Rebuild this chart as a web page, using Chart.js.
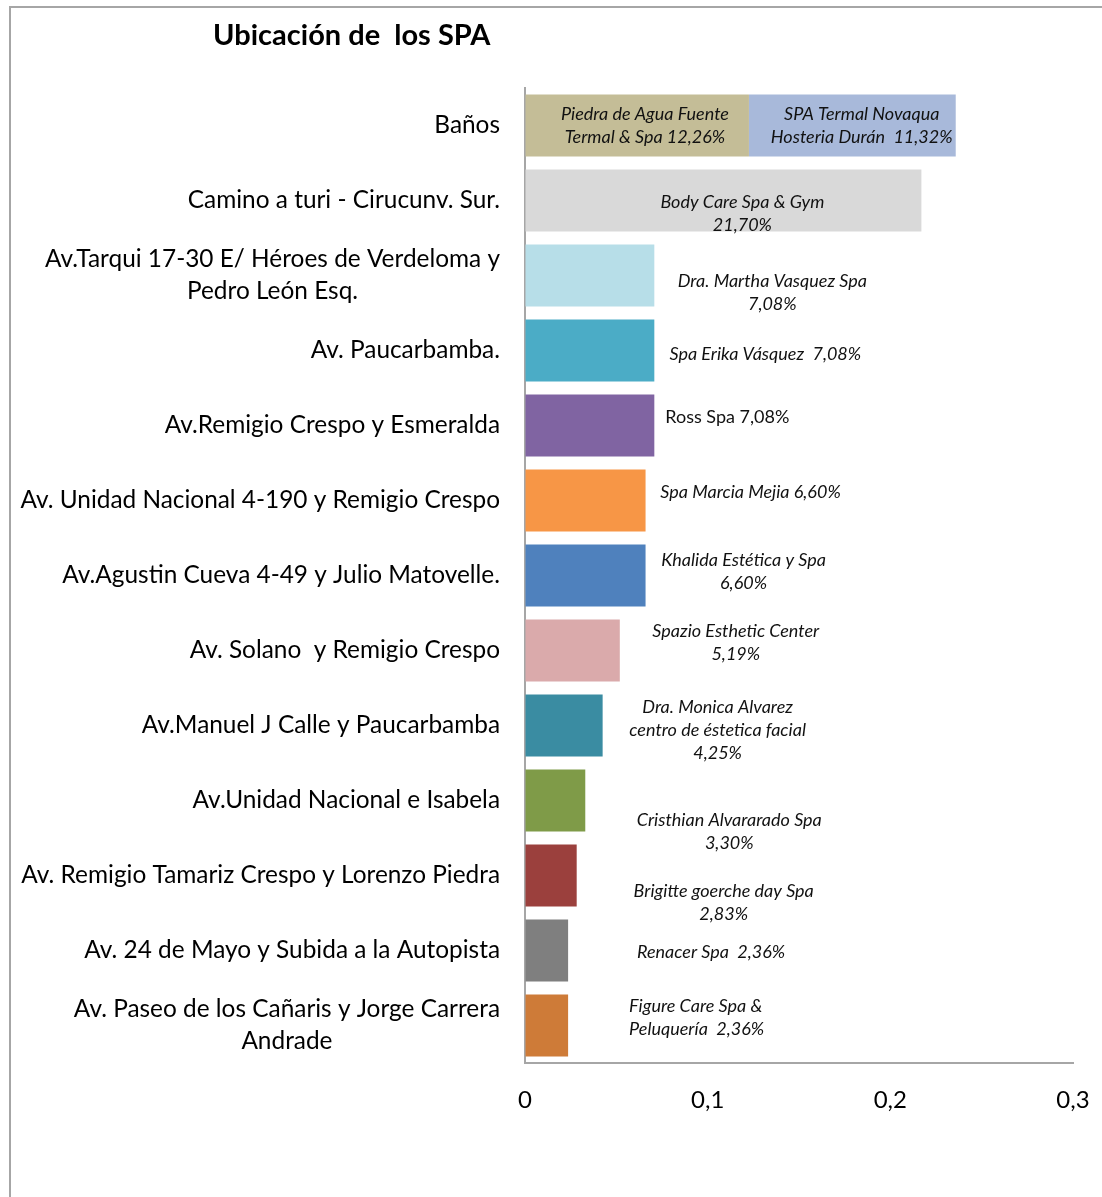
<!DOCTYPE html>
<html>
<head>
<meta charset="utf-8">
<script src="https://cdn.jsdelivr.net/npm/chart.js@4.4.1/dist/chart.umd.min.js"></script>
<style>
  html, body { margin: 0; padding: 0; background: #fff; }
  #wrap { position: relative; width: 1102px; height: 1197px; overflow: hidden; }
  #frame { position: absolute; left: 9px; top: 6px; width: 1200px; height: 1300px;
           border-left: 2px solid #a6a6a6; border-top: 2px solid #a6a6a6; }
  #title { position: absolute; left: 213px; top: 16px; margin: 0; line-height: 40px;
           font: bold 29px Lato, sans-serif; color: #000; }
  canvas { position: absolute; left: 0; top: 0; }
</style>
</head>
<body>
<div id="wrap">
  <div id="frame"></div>
  <canvas id="spaChart" width="1102" height="1197"></canvas>
  <h1 id="title">Ubicación de&nbsp; los SPA</h1>
</div>
<script>
// categories (street / zone), some split over two lines
const categories = [
  ['Baños'],
  ['Camino a turi - Cirucunv. Sur.'],
  ['Av.Tarqui 17-30 E/ Héroes de Verdeloma y', 'Pedro León Esq.'],
  ['Av. Paucarbamba.'],
  ['Av.Remigio Crespo y Esmeralda'],
  ['Av. Unidad Nacional 4-190 y Remigio Crespo'],
  ['Av.Agustin Cueva 4-49 y Julio Matovelle.'],
  ['Av. Solano  y Remigio Crespo'],
  ['Av.Manuel J Calle y Paucarbamba'],
  ['Av.Unidad Nacional e Isabela'],
  ['Av. Remigio Tamariz Crespo y Lorenzo Piedra'],
  ['Av. 24 de Mayo y Subida a la Autopista'],
  ['Av. Paseo de los Cañaris y Jorge Carrera', 'Andrade']
];

// share of each spa
const mainShare = [0.1226, 0.2170, 0.0708, 0.0708, 0.0708, 0.0660, 0.0660, 0.0519, 0.0425, 0.0330, 0.0283, 0.0236, 0.0236];
const secondShare = [0.1132, null, null, null, null, null, null, null, null, null, null, null, null];

// spa names, the percentage is appended to the last line
const mainNames = [
  ['Piedra de Agua Fuente', 'Termal & Spa '],
  ['Body Care Spa & Gym', ''],
  ['Dra. Martha Vasquez Spa', ''],
  ['Spa Erika Vásquez  '],
  ['Ross Spa '],
  ['Spa Marcia Mejia '],
  ['Khalida Estética y Spa', ''],
  ['Spazio Esthetic Center', ''],
  ['Dra. Monica Alvarez', 'centro de éstetica facial', ''],
  ['Cristhian Alvararado Spa', ''],
  ['Brigitte goerche day Spa', ''],
  ['Renacer Spa  '],
  ['Figure Care Spa &', 'Peluquería  ']
];
const secondNames = [['SPA Termal Novaqua', 'Hosteria Durán  ']];

const xTicks = [0, 0.1, 0.2, 0.3];

const barColors = ['#C4BD97', '#D9D9D9', '#B7DEE8', '#4BACC6', '#8064A2', '#F79646', '#4F81BD',
                   '#DAAAAB', '#3A8CA2', '#7F9B48', '#9B403D', '#7F7F7F', '#CE7B38'];
const secondColor = '#A8B9DA';

const fmtPct = v => (v * 100).toFixed(2).replace('.', ',') + '%';

// where each spa note sits: dx from bar end, dy from bar centre (px)
const notePlace = [
  { dx: -104, dy: 0 }, { dx: -179, dy: 13 }, { dx: 118, dy: 17 }, { dx: 111, dy: 4 },
  { dx: 73, dy: -8, upright: true }, { dx: 105, dy: -8 }, { dx: 98, dy: -4 }, { dx: 116, dy: -8 },
  { dx: 115, dy: 5 }, { dx: 144, dy: 31 }, { dx: 147, dy: 27 }, { dx: 143, dy: 2 },
  { dx: 61, dy: -8, left: true }
];
const secondPlace = [{ dx: -94, dy: 0 }];

function drawNote(ctx, el, lines, place) {
  ctx.save();
  ctx.font = (place.upright ? '' : 'italic ') + '18px Lato, sans-serif';
  ctx.fillStyle = '#111';
  ctx.textBaseline = 'middle';
  const lh = 23;
  const y0 = el.y + place.dy - (lines.length - 1) * lh / 2;
  let x = el.x + place.dx;
  ctx.textAlign = place.left ? 'left' : 'center';
  lines.forEach((t, i) => ctx.fillText(t, x, y0 + i * lh));
  ctx.restore();
}

const notesPlugin = {
  id: 'notes',
  afterDatasetsDraw(chart) {
    const ctx = chart.ctx;
    const m0 = chart.getDatasetMeta(0);
    const m1 = chart.getDatasetMeta(1);
    mainNames.forEach((n, i) => {
      const lines = n.slice();
      lines[lines.length - 1] += fmtPct(mainShare[i]);
      drawNote(ctx, m0.data[i], lines, notePlace[i]);
    });
    secondNames.forEach((n, i) => {
      const lines = n.slice();
      lines[lines.length - 1] += fmtPct(secondShare[i]);
      drawNote(ctx, m1.data[i], lines, secondPlace[i]);
    });
  },
  afterDraw(chart) {
    // category labels: right aligned block, lines centred inside it
    const ctx = chart.ctx;
    const ys = chart.scales.y;
    ctx.save();
    ctx.font = '24.4px Lato, sans-serif';
    ctx.fillStyle = '#000';
    ctx.textAlign = 'center';
    ctx.textBaseline = 'middle';
    const right = ys.right - 25;
    const lh = 32;
    categories.forEach((lines, i) => {
      const w = Math.max(...lines.map(t => ctx.measureText(t).width));
      const cx = right - w / 2;
      const cy = ys.getPixelForValue(i);
      const y0 = cy - (lines.length - 1) * lh / 2;
      lines.forEach((t, k) => ctx.fillText(t, cx, y0 + k * lh));
    });
    ctx.restore();
  }
};

new Chart(document.getElementById('spaChart'), {
  type: 'bar',
  data: {
    labels: categories,
    datasets: [
      { data: mainShare, backgroundColor: barColors, barPercentage: 0.827, categoryPercentage: 1 },
      { data: secondShare, backgroundColor: secondColor, barPercentage: 0.827, categoryPercentage: 1 }
    ]
  },
  options: {
    indexAxis: 'y',
    responsive: false,
    animation: false,
    layout: { padding: { top: 88, right: 29, bottom: 0, left: 0 } },
    plugins: { legend: { display: false }, tooltip: { enabled: false } },
    scales: {
      x: {
        stacked: true,
        min: 0,
        max: 0.3,
        afterBuildTicks: s => { s.ticks = xTicks.map(v => ({ value: v })); },
        afterFit: s => { s.height = 134; s.paddingLeft = 0; s.paddingRight = 0; },
        grid: { display: true, drawOnChartArea: false, drawTicks: false, color: 'rgba(0,0,0,0)' },
        border: { display: true, color: '#a6a6a6', width: 2 },
        ticks: {
          padding: 23,
          color: '#000',
          font: { family: 'Lato', size: 24 },
          callback: v => v === 0 ? '0' : v.toFixed(1).replace('.', ',')
        }
      },
      y: {
        stacked: true,
        afterFit: s => { s.width = 525; },
        grid: { display: true, drawOnChartArea: false, drawTicks: false, color: 'rgba(0,0,0,0)' },
        border: { display: true, color: '#a6a6a6', width: 2 },
        ticks: { display: false }
      }
    }
  },
  plugins: [notesPlugin]
});
</script>
</body>
</html>
